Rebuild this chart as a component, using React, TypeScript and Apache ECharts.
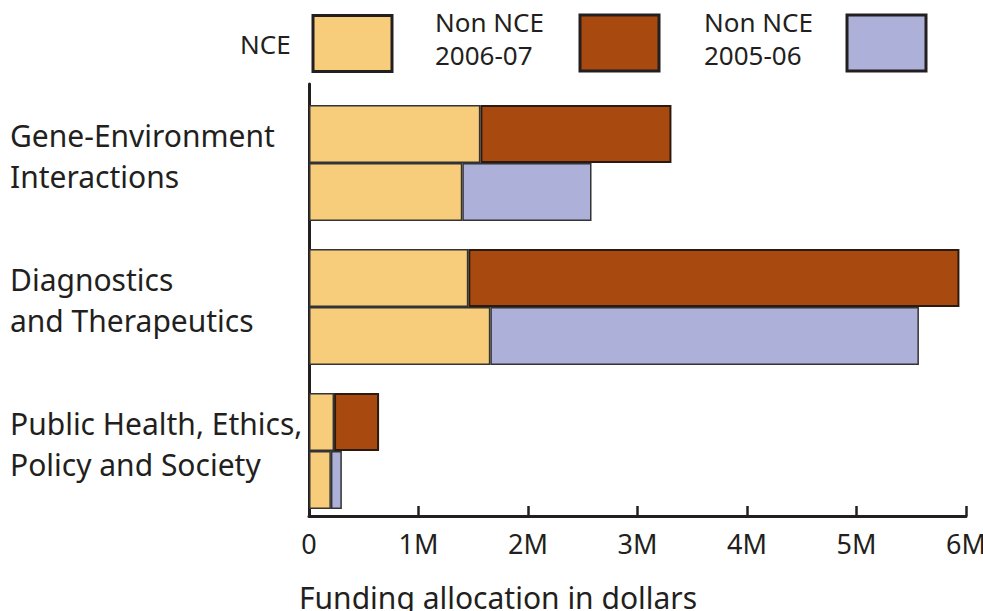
import React, { useEffect, useRef } from "react";
import * as echarts from "echarts";

const categories = [
  "Gene-Environment\nInteractions",
  "Diagnostics\nand Therapeutics",
  "Public Health, Ethics,\nPolicy and Society",
];
const legendNames = ["NCE", "Non NCE 2006-07", "Non NCE 2005-06"];
const nce0607 = [1565000, 1455000, 229000];
const nonNce0607 = [1745000, 4485000, 411000];
const nce0506 = [1400000, 1656000, 200000];
const nonNce0506 = [1180000, 3914000, 100000];
const spacer = [0, 0, 0];
const xTicks = [0, 1000000, 2000000, 3000000, 4000000, 5000000, 6000000];
const xTickLabels = ["0", "1M", "2M", "3M", "4M", "5M", "6M"];

const FONT = "Noto Sans";
const INK = "#231f20";
const C_NCE = "#f7cd7b";
const C_0607 = "#a84a0f";
const C_0506 = "#adb0d8";

export default function App() {
  const ref = useRef<HTMLDivElement>(null);
  useEffect(() => {
    const chart = echarts.init(ref.current!, null, { renderer: "svg" });
    const barStyle = (c: string) => ({ color: c, borderColor: "#333", borderWidth: 1.5 });
    const mkLegend = (name: string, left: number, top: number, gap: number, w: number, padB: number) => ({
      left,
      top,
      padding: 0,
      align: "right",
      icon: "rect",
      itemWidth: 79,
      itemHeight: 56,
      data: [name],
      selectedMode: false,
      itemStyle: { borderColor: INK, borderWidth: 3 },
      textStyle: {
        fontSize: 26,
        lineHeight: 33,
        color: INK,
        fontFamily: FONT,
        padding: [0, gap, padB, 0],
        rich: { a: { width: w, align: "left", fontSize: 26, lineHeight: 33, color: INK, fontFamily: FONT } },
      },
      formatter: (n: string) =>
        n
          .replace(" 20", "\n20")
          .split("\n")
          .map((s) => "{a|" + s + "}")
          .join("\n"),
    });
    chart.setOption({
      animation: false,
      textStyle: { fontFamily: FONT, color: INK },
      legend: [
        mkLegend(legendNames[0], 240, 14, 16, 52, 0),
        mkLegend(legendNames[1], 435, 5, 27, 113, 10),
        mkLegend(legendNames[2], 704, 5, 25, 113, 10),
      ],
      grid: { left: 309, right: 17, top: 84, bottom: 95, containLabel: false, outerBoundsMode: "none" },
      xAxis: {
        type: "value",
        min: 0,
        max: 6000000,
        interval: 1000000,
        name: "Funding allocation in dollars",
        nameLocation: "start",
        nameGap: 10,
        nameTextStyle: { fontSize: 30, color: INK, align: "left", verticalAlign: "top", padding: [66, 0, 0, 0], fontFamily: FONT },
        axisLine: { show: true, lineStyle: { color: INK, width: 3 } },
        axisTick: { show: true, inside: true, length: 10, lineStyle: { color: INK, width: 2.5 } },
        splitLine: { show: false },
        axisLabel: {
          fontSize: 27,
          color: INK,
          margin: 14,
          formatter: (v: number) => xTickLabels[xTicks.indexOf(v)] ?? "",
        },
      },
      yAxis: {
        type: "category",
        data: categories,
        inverse: true,
        axisLine: { show: true, lineStyle: { color: INK, width: 3 } },
        axisTick: { show: false },
        axisLabel: { align: "left", margin: 299, fontSize: 30, lineHeight: 41, color: INK },
      },
      series: [
        { type: "bar", stack: "pad", data: spacer, barWidth: 14, barGap: "0%", silent: true, itemStyle: { color: "transparent", borderWidth: 0 } },
        { name: legendNames[0], type: "bar", stack: "a", data: nce0607, barWidth: 58, barGap: "0%", itemStyle: barStyle(C_NCE) },
        { name: legendNames[1], type: "bar", stack: "a", data: nonNce0607, barWidth: 58, barGap: "0%", itemStyle: { color: C_0607, borderColor: "#2a1a10", borderWidth: 2 } },
        { name: legendNames[0], type: "bar", stack: "b", data: nce0506, barWidth: 58, barGap: "0%", itemStyle: barStyle(C_NCE) },
        { name: legendNames[2], type: "bar", stack: "b", data: nonNce0506, barWidth: 58, barGap: "0%", itemStyle: barStyle(C_0506) },
      ],
    });
    return () => chart.dispose();
  }, []);
  return <div ref={ref} style={{ width: 983, height: 611, position: "absolute", left: 0, top: 0 }} />;
}
